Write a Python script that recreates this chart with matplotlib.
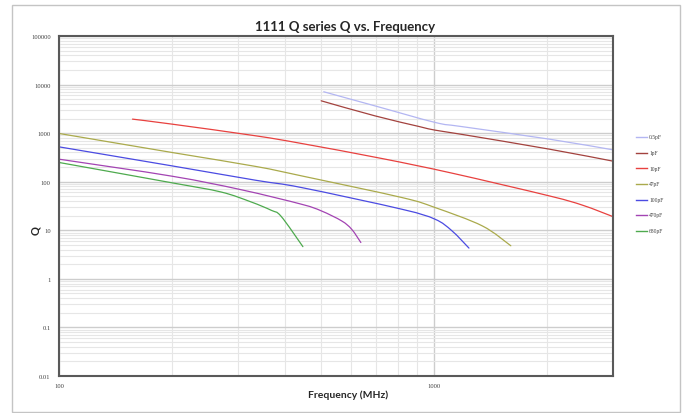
import matplotlib
matplotlib.use("Agg")
import numpy as np
import matplotlib.pyplot as plt
from matplotlib.patches import Rectangle, PathPatch
from matplotlib.path import Path
from matplotlib.ticker import FixedLocator, NullFormatter

# ---- data (frequency MHz, Q) ----
f_05pF = [508, 695, 1006, 1189, 2030, 3000]
q_05pF = [7110, 3650, 1663, 1360, 752, 453]

f_1pF = [500, 695, 910, 1006, 1189, 2030, 3000]
q_1pF = [4634, 2274, 1375, 1153, 940, 468, 265]

f_10pF = [157, 200, 335, 443, 725, 1117, 2030, 2493, 3000]
q_10pF = [1944, 1534, 880, 613, 301, 150, 51, 32.7, 19.1]

f_47pF = [100, 200, 335, 443, 821, 1006, 1345, 1602]
q_47pF = [985, 400, 206, 132, 47.2, 29.4, 12.3, 4.8]

f_100pF = [100, 200, 335, 443, 821, 1006, 1117, 1239]
q_100pF = [522, 212, 107, 75.9, 27.1, 16.9, 9.7, 4.3]

f_470pF = [100, 200, 306, 443, 501, 567, 603, 638]
q_470pF = [291, 130, 68.4, 34.4, 25, 15.6, 10.5, 5.6]

f_680pF = [100, 198, 270, 325, 368, 391, 447]
q_680pF = [249, 96.3, 61.6, 38.4, 25.8, 19.4, 4.6]

series_names = ["0.5pF", "1pF", "10pF", "47pF", "100pF", "470pF", "680pF"]
series_f = [f_05pF, f_1pF, f_10pF, f_47pF, f_100pF, f_470pF, f_680pF]
series_q = [q_05pF, q_1pF, q_10pF, q_47pF, q_100pF, q_470pF, q_680pF]
colors = ["#b3b6f2", "#a3423e", "#e8413f", "#aaaa4c", "#4b4be2", "#a344b3", "#4eaa4e"]

y_ticks = [0.01, 0.1, 1, 10, 100, 1000, 10000, 100000]
y_labels = ["0.01", "0.1", "1", "10", "100", "1000", "10000", "100000"]
x_ticks = [100, 1000]
x_labels = ["100", "1000"]


def smooth_path(fx, qy):
    """Excel-like smoothed line: cubic Bezier through the data points (log-log space)."""
    p = np.column_stack([np.log10(fx), np.log10(qy)])
    n = len(p)
    verts = [p[0]]
    codes = [Path.MOVETO]
    for i in range(n - 1):
        p_prev = p[i - 1] if i > 0 else p[i]
        p_next2 = p[i + 2] if i + 2 < n else p[i + 1]
        c1 = p[i] + (p[i + 1] - p_prev) / 6.0
        c2 = p[i + 1] - (p_next2 - p[i]) / 6.0
        verts += [c1, c2, p[i + 1]]
        codes += [Path.CURVE4] * 3
    verts = 10.0 ** np.array(verts)
    return Path(verts, codes)


W, H = 686, 414
fig = plt.figure(figsize=(W / 100, H / 100), dpi=100)
fig.patch.set_facecolor("white")

# outer chart border
fig.patches.append(Rectangle((12 / W, 1 - 413 / H), (680 - 12) / W, (413 - 6) / H,
                             transform=fig.transFigure, fill=False,
                             edgecolor="#c4c4c4", linewidth=1.0))

ax = fig.add_axes([59 / W, 1 - 377 / H, (613 - 59) / W, (377 - 37) / H])
ax.set_xscale("log")
ax.set_yscale("log")
ax.set_xlim(100, 3000)
ax.set_ylim(0.01, 100000)

# grid
ax.xaxis.set_minor_locator(FixedLocator([200, 300, 400, 500, 600, 700, 800, 900, 2000]))
ax.yaxis.set_minor_locator(FixedLocator([m * 10.0 ** e for e in range(-2, 5) for m in range(2, 10)]))
ax.xaxis.set_minor_formatter(NullFormatter())
ax.yaxis.set_minor_formatter(NullFormatter())
ax.set_xticks(x_ticks)
ax.set_xticklabels(x_labels)
ax.set_yticks(y_ticks)
ax.set_yticklabels(y_labels)
ax.grid(which="major", color="#cdcdcd", linewidth=1.0)
ax.grid(which="minor", color="#e6e6e6", linewidth=0.8)
ax.set_axisbelow(True)
ax.tick_params(which="both", length=0)
ax.tick_params(axis="y", pad=6, labelsize=4.7, labelcolor="#404040")
ax.tick_params(axis="x", pad=5, labelsize=4.7, labelcolor="#404040")
for lab in ax.get_xticklabels() + ax.get_yticklabels():
    lab.set_family("Liberation Serif")

for s in ax.spines.values():
    s.set_color("#595959")
    s.set_linewidth(1.5)

for name, fx, qy, c in zip(series_names, series_f, series_q, colors):
    patch = PathPatch(smooth_path(fx, qy), fill=False, edgecolor=c, linewidth=0.9,
                      label=name, capstyle="round", joinstyle="round")
    ax.add_patch(patch)

# legend (manual placement to match)
leg_y = [138, 154, 169, 185, 201, 216, 232]
for name, c, yy in zip(series_names, colors, leg_y):
    fig.lines.append(plt.Line2D([636 / W, 647 / W], [1 - yy / H, 1 - yy / H],
                                transform=fig.transFigure, color=c, linewidth=1.0))
    fig.text(649 / W, 1 - yy / H, name, fontsize=4, family="Liberation Serif",
             color="#404040", va="center", ha="left")

fig.text(345 / W, 1 - 27 / H, "1111 Q series Q vs. Frequency", fontsize=9.5,
         fontweight="bold", family="Lato", ha="center", va="center", color="#262626")
fig.text(348 / W, 1 - 395 / H, "Frequency (MHz)", fontsize=7.5, fontweight="bold",
         family="Lato", ha="center", va="center", color="#262626")
fig.text(36 / W, 1 - 231 / H, "Q", fontsize=8, fontweight="bold", family="Lato",
         ha="center", va="center", rotation=90, color="#262626")

fig.savefig("out.png", dpi=100, facecolor="white")
